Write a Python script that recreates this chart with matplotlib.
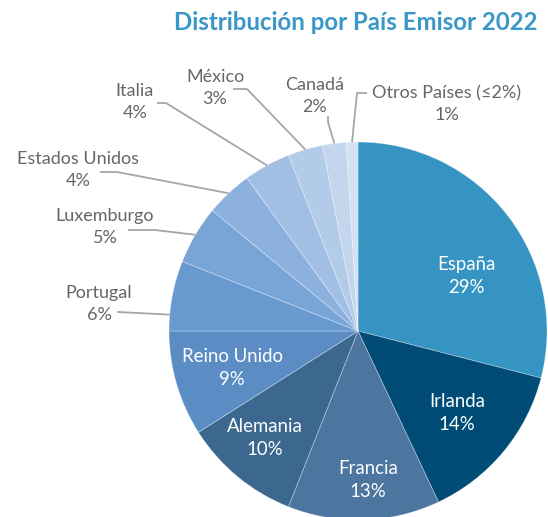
import numpy as np
import matplotlib
matplotlib.use("Agg")
from matplotlib import pyplot as plt

plt.rcParams['font.family'] = ['Lato', 'DejaVu Sans']

# data
countries = ["España", "Irlanda", "Francia", "Alemania", "Reino Unido", "Portugal",
             "Luxemburgo", "Estados Unidos", "Italia", "México", "Canadá",
             "Otros Países (≤2%)"]
shares = [29, 14, 13, 10, 9, 6, 5, 4, 4, 3, 2, 1]
colors = ["#3594C1", "#004C76", "#4C75A0", "#3C6890", "#5B8DC4", "#6899CF",
          "#79A4D6", "#8CB1DE", "#A0BFE3", "#B2CBE8", "#C3D6EE", "#D3E1F3"]

# layout (pixels, origin top-left)
W, H = 548, 517
CX, CY, R = 358, 331, 189
inside_pos = {"España": (466, 276), "Irlanda": (457, 413), "Francia": (368, 480),
              "Alemania": (265, 438), "Reino Unido": (232, 368)}
# label centre, elbow point, fraction along wedge where leader touches
outside_pos = {
    "Portugal": ((99, 304), (118, 312), 0.77),
    "Luxemburgo": ((105, 227), (155, 230), 0.5),
    "Estados Unidos": ((78, 170), (117, 172), 0.5),
    "Italia": ((135, 102), (166, 103), 0.5),
    "México": ((215, 88), (247, 89), 0.5),
    "Canadá": ((315, 96), (328, 122), 0.5),
    "Otros Países (≤2%)": ((447, 104), (357, 93), 0.5),
}
outside_start = {
    "Portugal": (120, 312), "Luxemburgo": (128, 230), "Estados Unidos": (100, 172),
    "Italia": (157, 103), "México": (233, 89), "Canadá": (328, 116),
    "Otros Países (≤2%)": (367, 93),
}


def px(p):
    return ((p[0] - CX) / R, (CY - p[1]) / R)


fig = plt.figure(figsize=(W / 100, H / 100), dpi=100)
ax = fig.add_axes([0, 0, 1, 1])

wedges, _ = ax.pie(shares, colors=colors, startangle=90, counterclock=False,
                   radius=1.0, wedgeprops=dict(edgecolor=(1, 1, 1, 0.35), linewidth=0.6))

ax.set_xlim(-CX / R, (W - CX) / R)
ax.set_ylim((CY - H) / R, CY / R)
ax.set_aspect('equal')
ax.axis('off')

for w, name, val in zip(wedges, countries, shares):
    label = f"{name}\n{val}%"
    if name in inside_pos:
        x, y = px(inside_pos[name])
        ax.text(x, y, label, ha='center', va='center', color='white',
                fontsize=13.4, linespacing=1.45)
    else:
        lp, elbow, frac = outside_pos[name]
        ang = np.radians(w.theta1 + frac * (w.theta2 - w.theta1))
        end = (np.cos(ang), np.sin(ang))
        s = px(outside_start[name])
        e = px(elbow)
        ax.plot([s[0], e[0], end[0]], [s[1], e[1], end[1]], color='#A6A6A6', lw=1.3,
                solid_capstyle='butt')
        x, y = px(lp)
        ax.text(x, y, label, ha='center', va='center', color='#666666',
                fontsize=13, linespacing=1.45)

fig.text(537 / W, 1 - 22 / H, "Distribución por País Emisor 2022", ha='right', va='center',
         color='#3A97C7', fontsize=17.3, fontweight='bold')

fig.savefig("out.png", dpi=100)
